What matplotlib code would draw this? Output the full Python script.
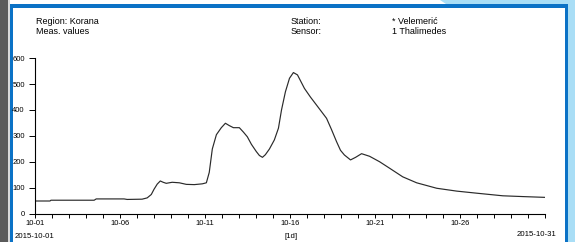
import matplotlib
matplotlib.use("Agg")
import matplotlib.pyplot as plt
import matplotlib.dates as mdates
from matplotlib.patches import Rectangle, Polygon
import pandas as pd

plt.rcParams['font.family'] = ['Liberation Sans', 'DejaVu Sans']

# ---- data (day offset from 2015-10-01 00:00, value) ----
day_offsets = [0.0, 0.88, 0.94, 3.48, 3.6, 5.24, 5.42, 6.3, 6.6, 6.84, 7.0, 7.19,
               7.37, 7.54, 7.72, 8.07, 8.49, 8.9, 9.37, 9.84, 10.08, 10.25, 10.43,
               10.67, 10.96, 11.2, 11.43, 11.67, 12.02, 12.26, 12.49, 12.73, 13.02,
               13.2, 13.38, 13.55, 13.79, 14.08, 14.32, 14.5, 14.73, 14.97, 15.2,
               15.44, 15.85, 16.2, 16.56, 17.15, 17.44, 17.74, 17.97, 18.2, 18.56,
               18.86, 19.21, 19.68, 20.27, 20.86, 21.63, 22.45, 23.63, 24.81, 25.99,
               27.52, 28.7, 29.99]
values = [50, 50, 53, 53, 58, 58, 56, 57, 62, 75, 95, 115,
          127, 122, 118, 122, 120, 114, 113, 116, 120, 160, 250,
          305, 332, 349, 340, 332, 332, 315, 297, 268, 240,
          225, 218, 228, 250, 285, 330, 400, 470, 522, 544,
          535, 483, 450, 419, 368, 325, 278, 245, 227, 208,
          218, 232, 222, 201, 176, 143, 120, 99, 88, 80,
          70, 67, 64]
start_date = "2015-10-01"
end_date = "2015-10-31"
y_ticks = [0, 100, 200, 300, 400, 500, 600]
header_left = ["Region: Korana", "Meas. values"]
header_mid = ["Station:", "Sensor:"]
header_right = ["* Velemerić", "1 Thalimedes"]
interval_label = "[1d]"

W, H = 575, 242
fig = plt.figure(figsize=(W / 100, H / 100), dpi=100)
fig.patch.set_facecolor("white")

def px(x, y):
    return (x / W, 1 - y / H)

def rect(x0, y0, x1, y1, color):
    fig.patches.append(Rectangle((x0 / W, 1 - y1 / H), (x1 - x0) / W, (y1 - y0) / H,
                                 transform=fig.transFigure, facecolor=color,
                                 edgecolor="none", zorder=0))

# frame decorations
rect(0, 0, 8, H, "#5a5a5a")
rect(8, 0, 9.5, H, "#d8d8d8")
fig.patches.append(Polygon([px(440, 0), px(W, 0), px(W, H), px(568, H), px(568, 4), px(446, 4)],
                           closed=True, transform=fig.transFigure,
                           facecolor="#a9def6", edgecolor="none", zorder=0))
rect(9.5, 4, 12.5, H, "#0b72c6")
rect(9.5, 4, 568, 7.5, "#0b72c6")
rect(564.5, 4, 568, H, "#0b72c6")

ax = fig.add_axes([35 / W, (H - 214) / H, (545 - 35) / W, (214 - 58) / H])
ax.set_facecolor("none")
ax.set_zorder(2)

t0 = pd.Timestamp(start_date)
times = [t0 + pd.Timedelta(days=d) for d in day_offsets]
ax.plot(times, values, color="#2a2a2a", lw=0.85)

ax.set_xlim(pd.Timestamp(start_date), pd.Timestamp(end_date))
ax.set_ylim(0, 600)
ax.set_yticks(y_ticks)
ax.xaxis.set_major_locator(mdates.DayLocator(bymonthday=[1, 6, 11, 16, 21, 26]))
ax.xaxis.set_major_formatter(mdates.DateFormatter("%m-%d"))
ax.xaxis.set_minor_locator(mdates.DayLocator())
for s in ["top", "right"]:
    ax.spines[s].set_visible(False)
for s in ["left", "bottom"]:
    ax.spines[s].set_linewidth(0.8)
ax.tick_params(axis="x", which="both", direction="out", length=3, width=0.7,
               labelsize=5.5, pad=1.5, colors="black")
ax.tick_params(axis="y", which="both", direction="out", length=4.3, width=0.7,
               labelsize=5.5, pad=3, colors="black")

fs = 6.5
fig.text(36 / W, 1 - 22 / H, header_left[0], fontsize=fs, va="center", ha="left")
fig.text(36 / W, 1 - 32 / H, header_left[1], fontsize=fs, va="center", ha="left")
fig.text(291 / W, 1 - 22 / H, header_mid[0], fontsize=fs, va="center", ha="left")
fig.text(291 / W, 1 - 32 / H, header_mid[1], fontsize=fs, va="center", ha="left")
fig.text(392 / W, 1 - 22 / H, header_right[0], fontsize=fs, va="center", ha="left")
fig.text(392 / W, 1 - 32 / H, header_right[1], fontsize=fs, va="center", ha="left")

fig.text(15 / W, 1 - 236 / H, start_date, fontsize=5.6, va="center", ha="left")
fig.text(291 / W, 1 - 236 / H, interval_label, fontsize=5.6, va="center", ha="center")
fig.text(556 / W, 1 - 234 / H, end_date, fontsize=5.6, va="center", ha="right")

fig.savefig("out.png", dpi=100, facecolor=fig.get_facecolor())
